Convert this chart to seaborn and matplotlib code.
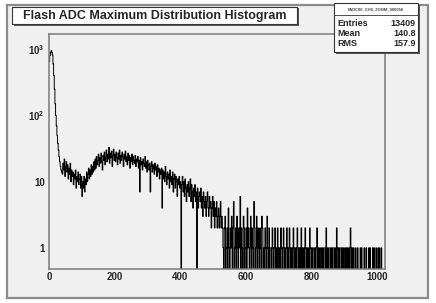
import numpy as np
import pandas as pd
import matplotlib
matplotlib.use("Agg")
import matplotlib.pyplot as plt
from matplotlib.patches import Rectangle
from matplotlib.ticker import FixedLocator, MultipleLocator, LogLocator, NullFormatter
import seaborn as sns

# histogram contents, 2 ADC counts per bin from 0 to 1024
bin_width = 2
counts_peak = [650, 800, 880, 950, 900, 820, 600, 400, 250, 150,
               100, 70, 50, 38, 30, 24, 20, 17, 15, 14]                      # 0-40
counts_low = [13, 19, 15, 22, 12, 17, 20, 14, 18, 11,
              16, 13, 19, 10, 15, 12, 14, 9, 13, 11,
              15, 8, 12, 10, 14, 9, 11, 13, 8, 12]                           # 40-100
counts_rise = [6, 10, 8, 12, 7, 11, 9, 14, 10, 13,
               16, 11, 15, 12, 18, 13, 17, 14, 20, 15]                       # 100-140
counts_bump = [22, 16, 24, 18, 21, 26, 17, 23, 19, 27, 20, 15, 25, 21, 28, 18, 24, 30, 20, 26,
               22, 33, 19, 27, 23, 29, 17, 25, 31, 21, 26, 20, 28, 23, 18, 27, 22, 30, 19, 25,
               21, 28, 24, 17, 26, 22, 29, 20, 24, 18, 27, 21, 25, 16, 23, 20, 26, 18, 24, 21]  # 140-260
counts_fall1 = [19, 25, 17, 22, 20, 24, 16, 21, 7, 23, 18, 20, 15, 22, 19, 17, 24, 16, 20, 14,
                21, 18, 15, 19, 7, 17, 20, 14, 18, 16, 13, 19, 15, 17, 12, 18, 14, 16, 11, 15]  # 260-340
counts_fall2 = [13, 16, 4, 15, 11, 14, 10, 17, 12, 9,
                14, 11, 13, 8, 15, 10, 12, 9, 14, 7,
                11, 13, 8, 12, 10, 6, 11, 9, 12, 8]                          # 340-400
counts_fall3 = [10, 0, 9, 12, 7, 10, 6, 11, 8, 5,
                9, 7, 10, 6, 8, 11, 5, 9, 7, 4,
                8, 6, 9, 5, 7, 0, 8, 4, 6, 7]                                # 400-460
counts_fall4 = [5, 8, 4, 6, 3, 7, 5, 4, 6, 3, 5, 7, 4, 3, 6, 4, 5, 2, 4, 6,
                3, 5, 2, 4, 3, 5, 2, 3, 4, 2, 3, 5, 2, 3, 2]                 # 460-530
counts_tail1 = [1, 0, 2, 3, 0, 1, 2, 0, 4, 1, 0, 2, 1, 3, 0, 2, 5, 0, 1, 2,
                0, 3, 1, 0, 2, 1, 6, 0, 2, 1, 0, 3, 2, 0, 1, 2, 0, 4, 1, 2,
                0, 1, 3, 0, 2, 1, 0, 5, 2, 0, 1, 3, 0, 2, 1, 0, 2, 1, 0, 3]  # 530-650
counts_tail2 = [2, 0, 1, 0, 2, 1, 0, 3, 1, 0, 2, 0, 1, 1, 0, 2, 1, 0, 1, 2,
                0, 1, 0, 2, 1, 0, 1, 0, 2, 1, 0, 1, 2, 0, 1, 0, 1, 2, 0, 1,
                0, 2, 1, 0, 1, 0, 1, 2, 0, 1, 0, 1, 0, 2, 1, 0, 1, 0, 1, 2,
                0, 1, 0, 1, 0, 2, 1, 0, 1, 0, 1, 0, 2, 1, 0]                 # 650-800
counts_tail3 = [1, 0, 1, 1, 0, 1, 0, 1, 2, 0, 1, 0, 1, 1, 0, 1, 0, 1, 0, 1,
                1, 0, 2, 0, 1, 0, 1, 1, 0, 1, 0, 1, 0, 1, 1, 0, 1, 0, 2, 1,
                0, 1, 0, 1, 1, 0, 1, 0, 1, 0, 1, 1, 0, 1, 0, 1, 0, 1, 0, 2,
                1, 0, 1, 0, 1]                                               # 800-930
counts_tail4 = [0, 0, 1, 0, 0, 1, 0, 0, 0, 1, 0, 1, 0, 0, 0, 1, 0, 0, 1, 0,
                0, 0, 1, 0, 1, 0, 0, 0, 1, 0, 1, 0, 0, 1, 0, 0, 1, 0, 1, 0,
                0, 1, 0, 0, 0, 0, 0]                                         # 930-1024

title = "Flash ADC Maximum Distribution Histogram"
stats_name = "FADC00_CH0_ZOOM_000056"
stats_rows = [("Entries", "13409"), ("Mean", "140.8"), ("RMS", "157.9")]
xticks = [0, 200, 400, 600, 800, 1000]
yticks = [1, 10, 100, 1000]
ylabels = ["1", "10", "$10^{2}$", "$10^{3}$"]

counts = np.array(counts_peak + counts_low + counts_rise + counts_bump + counts_fall1
                  + counts_fall2 + counts_fall3 + counts_fall4 + counts_tail1
                  + counts_tail2 + counts_tail3 + counts_tail4, dtype=float)
nbins = len(counts)
df = pd.DataFrame({"adc": np.arange(nbins) * bin_width + bin_width / 2, "n": counts})

sns.set_style("white")
plt.rcParams["font.family"] = ["Liberation Sans", "DejaVu Sans"]
plt.rcParams["mathtext.fontset"] = "custom"
plt.rcParams["mathtext.rm"] = "Liberation Sans:bold"
plt.rcParams["mathtext.bf"] = "Liberation Sans:bold"

W, H = 436, 303
def fx(x):
    return x / W
def fy(y):
    return 1 - y / H

bg = "#f0f0f0"
fig = plt.figure(figsize=(4.36, 3.03), dpi=100, facecolor="white")
# pad
fig.add_artist(Rectangle((fx(7), fy(298)), (428 - 7) / W, (298 - 5) / H,
                         transform=fig.transFigure, facecolor=bg,
                         edgecolor="#8a8a8a", lw=1.6, zorder=-1))

ax = fig.add_axes([fx(49), fy(269), (385 - 49) / W, (269 - 34) / H])
ax.set_facecolor(bg)
sns.histplot(data=df, x="adc", weights="n", binwidth=bin_width,
             binrange=(0, nbins * bin_width), element="step", fill=False,
             color="black", lw=0.7, ax=ax)
ax.set_yscale("log")
ax.set_xlim(0, 1024)
ax.set_ylim(0.48, 1700)
ax.set_xlabel("")
ax.set_ylabel("")

ax.xaxis.set_major_locator(FixedLocator(xticks))
ax.xaxis.set_minor_locator(MultipleLocator(50))
ax.set_xticklabels([str(t) for t in xticks], fontsize=7, fontweight="bold")
ax.yaxis.set_major_locator(FixedLocator(yticks))
ax.yaxis.set_minor_locator(LogLocator(base=10, subs=np.arange(2, 10)))
ax.yaxis.set_minor_formatter(NullFormatter())
ax.set_yticklabels(ylabels, fontsize=7, fontweight="bold")
ax.tick_params(axis="both", which="major", direction="in", length=6, width=0.6,
               color="#555555", pad=3)
ax.tick_params(axis="both", which="minor", direction="in", length=3, width=0.6,
               color="#555555")
ax.tick_params(axis="x", pad=2)
for s in ax.spines.values():
    s.set_color("#7a7a7a")
    s.set_linewidth(1.1)

# title box with shadow
fig.add_artist(Rectangle((fx(13.5), fy(25.5)), (297 - 12) / W, (24 - 7) / H,
                         transform=fig.transFigure, facecolor="#555555",
                         edgecolor="none", zorder=4))
fig.add_artist(Rectangle((fx(12), fy(24)), (297 - 12) / W, (24 - 7) / H,
                         transform=fig.transFigure, facecolor="white",
                         edgecolor="#333333", lw=0.8, zorder=5))
fig.text(fx(155), fy(15.5), title, ha="center", va="center", fontsize=9,
         fontweight="bold", zorder=6)

# stats box with shadow
fig.add_artist(Rectangle((fx(335.5), fy(53.5)), (418 - 334) / W, (52 - 3) / H,
                         transform=fig.transFigure, facecolor="#555555",
                         edgecolor="none", zorder=4))
fig.add_artist(Rectangle((fx(334), fy(52)), (418 - 334) / W, (52 - 3) / H,
                         transform=fig.transFigure, facecolor="white",
                         edgecolor="#333333", lw=0.8, zorder=5))
fig.add_artist(plt.Line2D([fx(334), fx(418)], [fy(14.5), fy(14.5)],
                          transform=fig.transFigure, color="#333333", lw=0.6, zorder=6))
fig.text(fx(376), fy(9), stats_name, ha="center", va="center", fontsize=3,
         fontweight="bold", color="#444444", zorder=6)
for i, (name, val) in enumerate(stats_rows):
    yy = fy(23 + i * 10)
    fig.text(fx(337), yy, name, ha="left", va="center", fontsize=6.5,
             fontweight="bold", zorder=6)
    fig.text(fx(416), yy, val, ha="right", va="center", fontsize=6.5,
             fontweight="bold", zorder=6)

fig.savefig("out.png", dpi=100, facecolor="white")
